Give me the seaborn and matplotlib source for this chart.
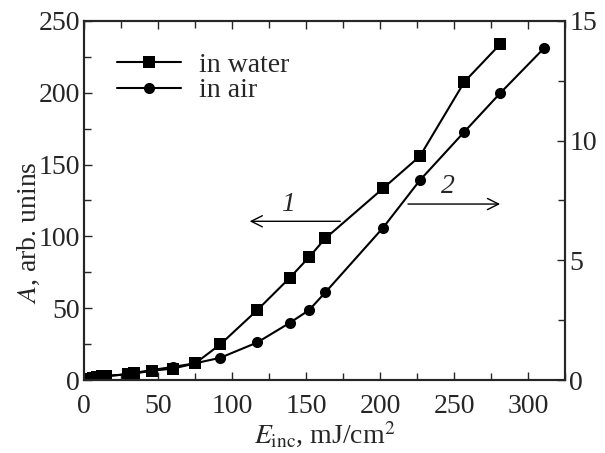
"""
Signal amplitude vs incident fluence, water and air.
"""
import matplotlib
matplotlib.use("Agg")
import matplotlib.pyplot as plt
from matplotlib.lines import Line2D
from matplotlib.ticker import MultipleLocator
import pandas as pd
import seaborn as sns

# in water (left axis, arb. units)
water_e = [3, 6, 9, 12, 15, 30, 34, 46, 60, 75, 92, 117, 139, 152, 163, 202, 227, 257, 281]
water_a = [1, 1.5, 2, 2.5, 3, 4, 4.6, 6.5, 8, 11.6, 24.8, 48.7, 71.2, 85.5, 98.6, 133.4, 155.9, 207.6, 233.6]

# in air (right axis)
air_e = [3, 6, 9, 12, 15, 30, 34, 46, 60, 75, 92, 117, 139, 152, 163, 202, 227, 257, 281, 311]
air_a = [0.05, 0.08, 0.1, 0.13, 0.16, 0.25, 0.3, 0.42, 0.55, 0.70, 0.93, 1.57, 2.39, 2.92,
         3.66, 6.36, 8.35, 10.37, 11.97, 13.87]

x_ticks = [0, 50, 100, 150, 200, 250, 300]
left_ticks = [0, 50, 100, 150, 200, 250]
right_ticks = [0, 5, 10, 15]

FS = 20
MS = 8

sns.set_style("ticks")
plt.rcParams["font.family"] = ["Liberation Serif", "DejaVu Serif"]
plt.rcParams["mathtext.fontset"] = "stix"
plt.rcParams["font.size"] = FS

water = pd.DataFrame({"E": water_e, "A": water_a})
air = pd.DataFrame({"E": air_e, "A": air_a})

fig = plt.figure(figsize=(6.05, 4.53), dpi=100)
ax = fig.add_axes([0.139, 0.161, 0.795, 0.793])
ax2 = ax.twinx()

sns.lineplot(data=water, x="E", y="A", ax=ax, color="black", marker="s",
             markersize=MS, linewidth=1.5, markeredgewidth=0)
sns.lineplot(data=air, x="E", y="A", ax=ax2, color="black", marker="o",
             markersize=MS, linewidth=1.5, markeredgewidth=0)

ax.set_xlim(0, 325)
ax.set_ylim(0, 250)
ax2.set_ylim(0, 15)
ax.set_xticks(x_ticks)
ax.set_yticks(left_ticks)
ax2.set_yticks(right_ticks)
ax.xaxis.set_minor_locator(MultipleLocator(25))
ax.yaxis.set_minor_locator(MultipleLocator(25))
ax2.yaxis.set_minor_locator(MultipleLocator(2.5))

for a in (ax, ax2):
    a.tick_params(which="both", direction="in", labelsize=FS, width=1, pad=3)
    a.tick_params(which="major", length=6)
    a.tick_params(which="minor", length=5)
    for sp in a.spines.values():
        sp.set_visible(True)
        sp.set_linewidth(1.5)
ax.tick_params(which="both", top=True)
ax.tick_params(axis="x", which="both", pad=10)

ax.set_xlabel(r"$E_{\rm inc}$, mJ/cm$^2$", fontsize=FS)
ax.set_ylabel(r"$A$, arb. unins", fontsize=FS)
ax.yaxis.set_label_coords(-0.088, 0.41)
ax.xaxis.set_label_coords(0.5, -0.112)
ax2.set_ylabel("")

# arrows pointing to the axis of each curve
ax.annotate("", xy=(110, 110.5), xytext=(175, 110.5),
            arrowprops=dict(arrowstyle="->", color="black", lw=1, mutation_scale=20))
ax.text(138, 122, "1", style="italic", fontsize=FS, ha="center", va="center")
ax.annotate("", xy=(283, 122.5), xytext=(217, 122.5),
            arrowprops=dict(arrowstyle="->", color="black", lw=1, mutation_scale=20))
ax.text(246, 134.5, "2", style="italic", fontsize=FS, ha="center", va="center")

handles = [
    Line2D([], [], color="black", marker="s", markersize=MS, linewidth=1.5, markeredgewidth=0),
    Line2D([], [], color="black", marker="o", markersize=MS, linewidth=1.5, markeredgewidth=0),
]
ax.legend(handles, ["in water", "in air"], loc="upper left", frameon=False,
          fontsize=FS, handlelength=2.3, handletextpad=0.65, labelspacing=0.0,
          borderaxespad=0.0, borderpad=0.0, bbox_to_anchor=(0.068, 0.912))

fig.savefig("out.png", dpi=100)
